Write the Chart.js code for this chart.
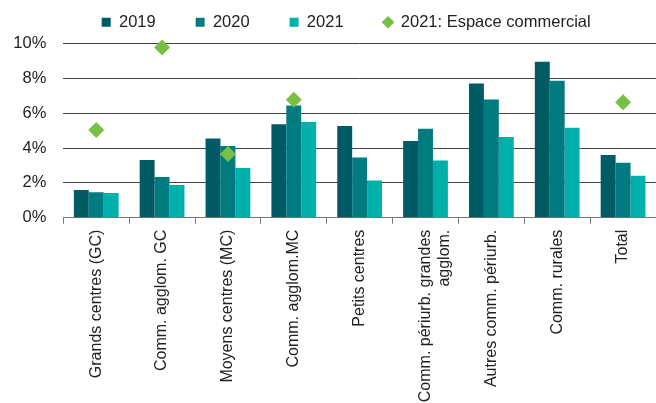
<!DOCTYPE html>
<html>
<head>
<meta charset="utf-8">
<script src="https://cdn.jsdelivr.net/npm/chart.js@4/dist/chart.umd.min.js"></script>
<style>
html,body{margin:0;padding:0;background:#fff;}
canvas{display:block;}
</style>
</head>
<body>
<canvas id="c" width="656" height="403"></canvas>
<script>
const categories = [
  "Grands centres (GC)",
  "Comm. agglom. GC",
  "Moyens centres (MC)",
  "Comm. agglom.MC",
  "Petits centres",
  ["Comm. périurb. grandes", "agglom."],
  "Autres comm. périurb.",
  "Comm. rurales",
  "Total"
];
const seriesNames = ["2019", "2020", "2021", "2021: Espace commercial"];
const values2019 = [1.59, 3.31, 4.55, 5.37, 5.26, 4.40, 7.71, 8.95, 3.60];
const values2020 = [1.46, 2.33, 4.11, 6.44, 3.46, 5.11, 6.79, 7.86, 3.15];
const values2021 = [1.42, 1.87, 2.85, 5.49, 2.14, 3.29, 4.63, 5.16, 2.41];
const valuesEspace = [5.03, 9.77, 3.65, 6.77, null, null, null, null, 6.63];
const yTicks = [0, 2, 4, 6, 8, 10];

const FONT = "'Liberation Sans', Arial, Helvetica, sans-serif";

const legendPlace = {
  id: 'legendPlace',
  afterLayout(chart) {
    const l = chart.legend;
    const w = l.right - l.left;
    l.left = 61.7;
    l.right = l.left + w;
    l.top = -26;
    l.bottom = 42;
  }
};

new Chart(document.getElementById('c'), {
  type: 'bar',
  data: {
    labels: categories,
    datasets: [
      { label: seriesNames[0], data: values2019, backgroundColor: '#005B64', pointStyle: 'rect', order: 1 },
      { label: seriesNames[1], data: values2020, backgroundColor: '#007B80', pointStyle: 'rect', order: 1 },
      { label: seriesNames[2], data: values2021, backgroundColor: '#00B0AA', pointStyle: 'rect', order: 1 },
      { label: seriesNames[3], data: valuesEspace, type: 'line', showLine: false, clip: false,
        pointStyle: 'rectRot', pointRadius: 8, pointHoverRadius: 8,
        backgroundColor: '#77C044', borderColor: '#77C044', borderWidth: 0, order: 0 }
    ]
  },
  options: {
    responsive: false,
    animation: false,
    devicePixelRatio: 1,
    layout: { autoPadding: false, padding: { left: 13, right: 0, top: 9.5, bottom: 0 } },
    datasets: { bar: { categoryPercentage: 0.68, barPercentage: 1.0 } },
    plugins: {
      tooltip: { enabled: false },
      legend: {
        position: 'top',
        align: 'start',
        maxHeight: 34,
        labels: {
          usePointStyle: true,
          boxWidth: 9,
          boxHeight: 9,
          padding: 40,
          color: '#222',
          font: { family: FONT, size: 16.5 },
          sort: (a, b) => a.datasetIndex - b.datasetIndex
        }
      }
    },
    scales: {
      x: {
        offset: true,
        afterFit: (scale) => { scale.paddingLeft = 0; scale.paddingRight = 0; scale.height = 185.3; },
        grid: { display: true, offset: true, drawOnChartArea: false, drawTicks: true, tickLength: 6, color: '#777', lineWidth: 1 },
        border: { display: true, color: '#777', width: 1 },
        ticks: { autoSkip: false, maxRotation: 90, minRotation: 90, padding: 6, color: '#222', font: { family: FONT, size: 16 } }
      },
      y: {
        min: 0,
        max: 10,
        afterFit: (scale) => { scale.width = 50.3; },
        afterBuildTicks: (axis) => { axis.ticks = yTicks.map(v => ({ value: v })); },
        grid: { color: '#444', lineWidth: 1, drawTicks: false },
        border: { display: false },
        ticks: { padding: 17, color: '#222', font: { family: FONT, size: 16.5 }, callback: (v) => v + '%' }
      }
    }
  },
  plugins: [legendPlace]
});
</script>
</body>
</html>
